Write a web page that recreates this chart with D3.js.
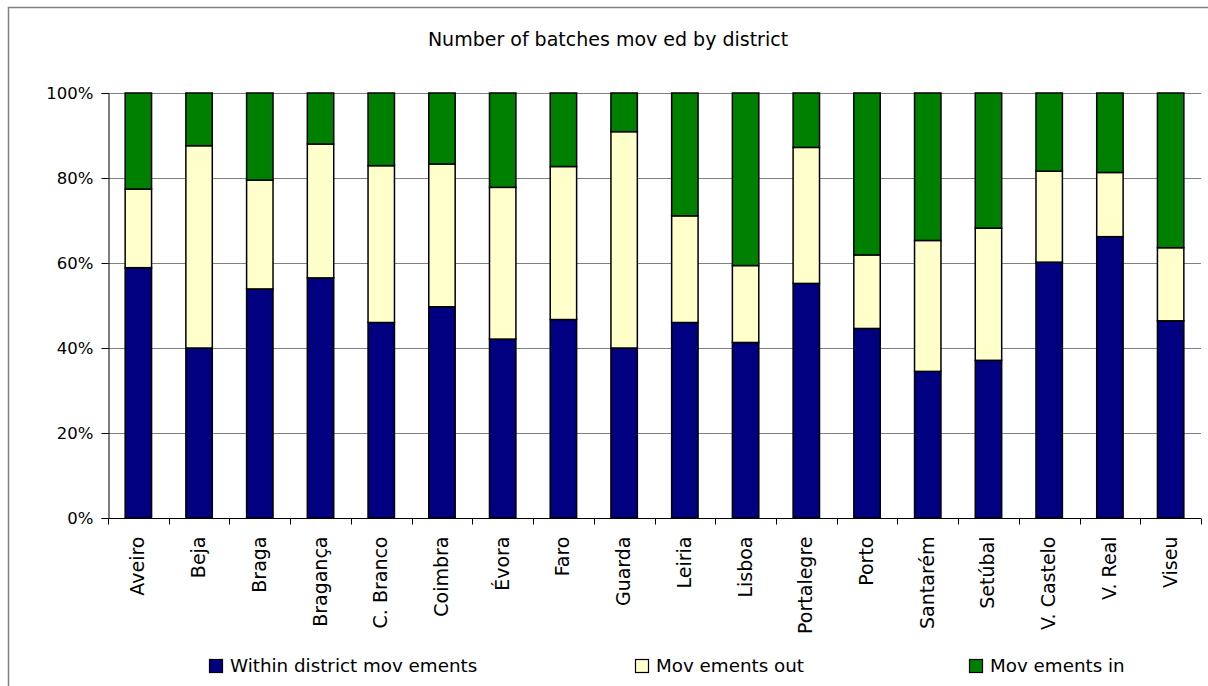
<!DOCTYPE html>
<html>
<head>
<meta charset="utf-8">
<script src="https://cdn.jsdelivr.net/npm/d3@7"></script>
<style>
  html, body { margin: 0; padding: 0; background: #fff; }
  svg { display: block; }
  text { font-family: "DejaVu Sans", sans-serif; fill: #000; }
</style>
</head>
<body>
<svg id="chart" width="1208" height="686"></svg>
<script>
const title = "Number of batches mov ed by district";
const districts = ["Aveiro","Beja","Braga","Bragança","C. Branco","Coimbra","Évora","Faro","Guarda","Leiria","Lisboa","Portalegre","Porto","Santarém","Setúbal","V. Castelo","V. Real","Viseu"];
const seriesNames = ["Within district mov ements","Mov ements out","Mov ements in"];
const seriesColors = ["#000080","#FFFFCC","#008000"];
// percentages
const within = [58.9, 40.0, 53.9, 56.5, 46.0, 49.7, 42.1, 46.7, 40.0, 46.0, 41.3, 55.2, 44.6, 34.5, 37.1, 60.2, 66.2, 46.4];
const outTop = [77.4, 87.6, 79.5, 88.0, 82.9, 83.3, 77.8, 82.7, 90.9, 71.1, 59.4, 87.2, 61.9, 65.3, 68.2, 81.6, 81.3, 63.6];
const movOut = outTop.map((t, i) => +(t - within[i]).toFixed(1));
const movIn = outTop.map(t => +(100 - t).toFixed(1));
const yTicks = [0, 20, 40, 60, 80, 100];

const svg = d3.select("#chart");

// frame
svg.append("path")
  .attr("d", "M8.5,686 L8.5,7.5 L1208,7.5")
  .attr("fill", "none").attr("stroke", "#808080").attr("stroke-width", 1.5);

const plot = {left: 108, right: 1201, top: 93, bottom: 518};

const x = d3.scaleBand().domain(districts).range([plot.left, plot.right]).paddingInner(0.565).paddingOuter(0.2825);
const y = d3.scaleLinear().domain([0, 100]).range([plot.bottom, plot.top]);

// title
svg.append("text")
  .attr("x", 608).attr("y", 46)
  .attr("text-anchor", "middle")
  .style("font-size", "19px")
  .text(title);

// gridlines
svg.append("g").selectAll("line").data(yTicks.filter(d => d > 0)).join("line")
  .attr("x1", plot.left).attr("x2", plot.right)
  .attr("y1", d => Math.round(y(d)) + 0.5).attr("y2", d => Math.round(y(d)) + 0.5)
  .attr("stroke", "#808080").attr("stroke-width", 1);

// stacked data
const rows = districts.map((d, i) => ({district: d, a: within[i], b: movOut[i], c: movIn[i]}));
const stack = d3.stack().keys(["a","b","c"])(rows);

svg.append("g").selectAll("g").data(stack).join("g")
  .attr("fill", (d, i) => seriesColors[i])
  .selectAll("rect").data(d => d).join("rect")
  .attr("x", d => x(d.data.district))
  .attr("width", x.bandwidth())
  .attr("y", d => y(d[1]))
  .attr("height", d => y(d[0]) - y(d[1]))
  .attr("stroke", "#000").attr("stroke-width", 1.5);

// y axis
const yAxis = d3.axisLeft(y).tickValues(yTicks).tickFormat(d => d + "%").tickSize(7).tickPadding(10);
const gy = svg.append("g").attr("transform", `translate(${plot.left + 0.5},0)`).call(yAxis);
gy.select(".domain").attr("stroke", "#000");
gy.selectAll(".tick line").attr("stroke", "#000");
gy.selectAll("text").style("font-family", '"DejaVu Sans", sans-serif').style("font-size", "16.5px").attr("fill", "#000").attr("dx", "2");

// x axis
const xPos = d3.scaleLinear().domain([0, districts.length]).range([plot.left, plot.right]);
const gx = svg.append("g").attr("transform", `translate(0,${Math.round(y(0)) + 0.5})`);
gx.append("line").attr("x1", plot.left).attr("x2", plot.right).attr("stroke", "#000");
gx.selectAll("line.tk").data(d3.range(districts.length + 1)).join("line")
  .attr("class", "tk")
  .attr("x1", i => Math.round(xPos(i)) + 0.5).attr("x2", i => Math.round(xPos(i)) + 0.5)
  .attr("y1", 0).attr("y2", 6).attr("stroke", "#000");
gx.selectAll("text").data(districts).join("text")
  .attr("transform", d => `translate(${x(d) + x.bandwidth() / 2 + 6},18) rotate(-90)`)
  .attr("text-anchor", "end")
  .style("font-size", "19px")
  .text(d => d);

// legend
const legendX = [209, 635, 969];
const lg = svg.append("g").selectAll("g").data(seriesNames).join("g")
  .attr("transform", (d, i) => `translate(${legendX[i]},659)`);
lg.append("rect").attr("x", 0.5).attr("y", 0.5).attr("width", 13).attr("height", 13)
  .attr("fill", (d, i) => seriesColors[i]).attr("stroke", "#000").attr("stroke-width", 1.2);
lg.append("text").attr("x", 21).attr("y", 13).style("font-size", "18.3px").text(d => d);
</script>
</body>
</html>
